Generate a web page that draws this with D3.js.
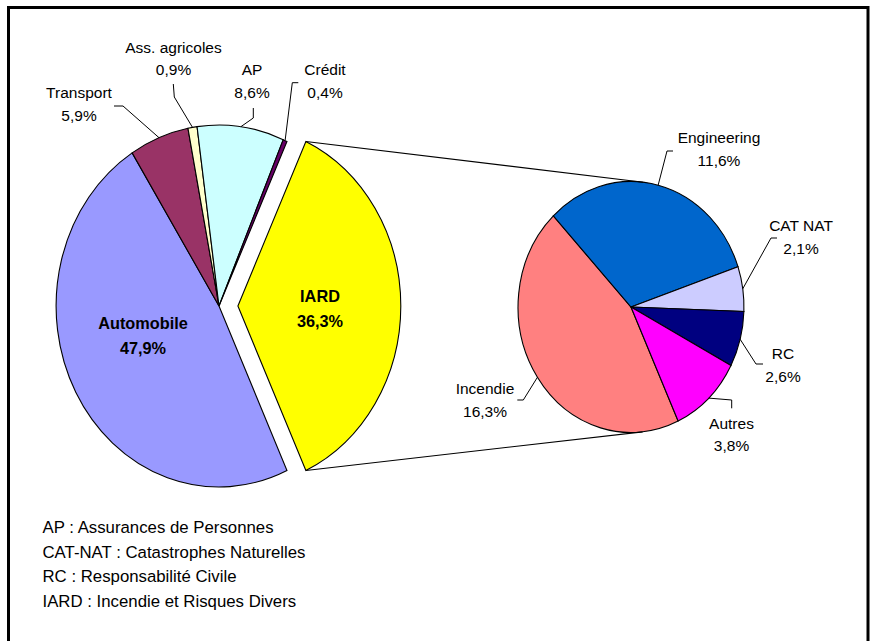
<!DOCTYPE html>
<html>
<head>
<meta charset="utf-8">
<script src="https://cdn.jsdelivr.net/npm/d3@7"></script>
<style>
  html, body { margin: 0; padding: 0; background: #fff; }
  svg { display: block; }
  text { font-family: "Liberation Sans", Arial, sans-serif; fill: #000; }
</style>
</head>
<body>
<svg id="chart" width="872" height="641"></svg>
<script>
// ---- Data ----
const mainCategories = ["Automobile", "Transport", "Ass. agricoles", "AP", "Crédit", "IARD"];
const mainValues = [47.9, 5.9, 0.9, 8.6, 0.4, 36.3];
const subCategories = ["Incendie", "Engineering", "CAT NAT", "RC", "Autres"];
const subValues = [16.3, 11.6, 2.1, 2.6, 3.8];
const footnotes = [
  "AP : Assurances de Personnes",
  "CAT-NAT : Catastrophes Naturelles",
  "RC : Responsabilité Civile",
  "IARD : Incendie et Risques Divers"
];

// ---- Styles ----
const mainColors = ["#9999FF", "#993366", "#FFFFCC", "#CCFFFF", "#660066", "#FFFF00"];
const subColors = ["#FF8080", "#0066CC", "#CCCCFF", "#000080", "#FF00FF"];
const fmt = v => d3.format(".1f")(v).replace(".", ",") + "%";

// ---- Layout ----
const SX = 0.9;              // horizontal squash of the pies
const mainC = {x: 219, y: 306, r: 181, explode: 21};
const subC = {x: 631, y: 307, r: 125.5};

const mainLayout = {
  "Automobile":    {x: 143, y: 329, bold: true},
  "Transport":     {x: 79,  y: 98,  leader: [[114, 106], [123, 106]]},
  "Ass. agricoles":{x: 173.5, y: 52.5, leader: [[173.3, 84], [174.3, 97]]},
  "AP":            {x: 252, y: 75,  leader: [[253.3, 108], [253.3, 118]]},
  "Crédit":        {x: 325, y: 75,  leader: [[298.3, 82.7], [292.3, 82.7]]},
  "IARD":          {x: 320, y: 302, bold: true}
};
const subLayout = {
  "Incendie":    {x: 485, y: 394, leader: [[517.3, 400], [523.3, 400]]},
  "Engineering": {x: 719, y: 143, leader: [[673, 151], [667, 151]]},
  "CAT NAT":     {x: 801, y: 231, leader: [[777, 238], [771, 238]]},
  "RC":          {x: 783, y: 359, leader: [[763, 364], [756, 364]]},
  "Autres":      {x: 731.5, y: 428.5, leader: [[731.7, 408.3], [731.7, 400]]}
};
const lineGap = 22.5;

const svg = d3.select("#chart");

// frame
svg.append("rect")
  .attr("x", 8.5).attr("y", 7.5).attr("width", 859.5).attr("height", 650)
  .attr("fill", "#fff").attr("stroke", "#000").attr("stroke-width", 3);

const TAU = 2 * Math.PI;

// ---- main pie ----
const mainTotal = d3.sum(mainValues);
const iardIdx = mainCategories.indexOf("IARD");
const before = d3.sum(mainValues.slice(0, iardIdx));
const mainStart = Math.PI / 2 - TAU * (before + mainValues[iardIdx] / 2) / mainTotal;
const mainPie = d3.pie().sort(null).value(d => d).startAngle(mainStart).endAngle(mainStart + TAU);
const mainArcs = mainPie(mainValues);
const mainArc = d3.arc().innerRadius(0).outerRadius(mainC.r);

const gMain = svg.append("g").attr("transform", `translate(${mainC.x},${mainC.y}) scale(${SX},1)`);
gMain.selectAll("path").data(mainArcs).join("path")
  .attr("d", mainArc)
  .attr("transform", (d, i) => {
    if (i !== iardIdx) return null;
    const a = (d.startAngle + d.endAngle) / 2;
    return `translate(${mainC.explode * Math.sin(a)},${-mainC.explode * Math.cos(a)})`;
  })
  .attr("fill", (d, i) => mainColors[i])
  .attr("stroke", "#000").attr("stroke-width", 1.1)
  .attr("vector-effect", "non-scaling-stroke")
  .attr("stroke-linejoin", "miter");

function pt(c, angle, r, off) {
  const ox = off ? off[0] : 0, oy = off ? off[1] : 0;
  return [c.x + SX * (ox + r * Math.sin(angle)), c.y + oy - r * Math.cos(angle)];
}

// ---- secondary pie ----
const iard = mainArcs[iardIdx];
const subPie = d3.pie().sort(null).value(d => d).startAngle(iard.endAngle - TAU).endAngle(iard.endAngle);
const subArcs = subPie(subValues);
const subArc = d3.arc().innerRadius(0).outerRadius(subC.r);
const gSub = svg.append("g").attr("transform", `translate(${subC.x},${subC.y}) scale(${SX},1)`);
gSub.selectAll("path").data(subArcs).join("path")
  .attr("d", subArc)
  .attr("fill", (d, i) => subColors[i])
  .attr("stroke", "#000").attr("stroke-width", 1.1)
  .attr("vector-effect", "non-scaling-stroke");

// ---- connector lines ----
const ia = (iard.startAngle + iard.endAngle) / 2;
const off = [mainC.explode * Math.sin(ia), -mainC.explode * Math.cos(ia)];
const pTop = pt(mainC, iard.startAngle, mainC.r, off);
const pBot = pt(mainC, iard.endAngle, mainC.r, off);
function tangent(p, upper) {
  const px = (p[0] - subC.x) / SX, py = p[1] - subC.y;
  const d = Math.hypot(px, py);
  const phi = Math.atan2(py, px);
  const al = Math.acos(subC.r / d);
  const cands = [phi + al, phi - al].map(t => [subC.x + SX * subC.r * Math.cos(t), subC.y + subC.r * Math.sin(t)]);
  return upper ? (cands[0][1] < cands[1][1] ? cands[0] : cands[1]) : (cands[0][1] > cands[1][1] ? cands[0] : cands[1]);
}
[[pTop, tangent(pTop, true)], [pBot, tangent(pBot, false)]].forEach(seg => {
  svg.append("line")
    .attr("x1", seg[0][0]).attr("y1", seg[0][1])
    .attr("x2", seg[1][0]).attr("y2", seg[1][1])
    .attr("stroke", "#000").attr("stroke-width", 1.1);
});

// ---- labels ----
function drawLabels(arcs, cats, layout, c) {
  arcs.forEach((d, i) => {
    const L = layout[cats[i]];
    if (!L) return;
    const t = svg.append("text")
      .attr("text-anchor", "middle")
      .style("font-size", L.bold ? "16.3px" : "15.5px")
      .style("font-weight", L.bold ? "bold" : "normal");
    t.append("tspan").attr("x", L.x).attr("y", L.y).text(cats[i]);
    t.append("tspan").attr("x", L.x).attr("y", L.y + (L.bold ? 24.5 : lineGap)).text(fmt(d.data));
    if (L.leader) {
      const a = (d.startAngle + d.endAngle) / 2;
      const pts = L.leader.concat([pt(c, a, c.r)]);
      svg.append("path")
        .attr("d", d3.line()(pts))
        .attr("fill", "none").attr("stroke", "#000").attr("stroke-width", 1);
    }
  });
}
drawLabels(mainArcs, mainCategories, mainLayout, mainC);
drawLabels(subArcs, subCategories, subLayout, subC);

// ---- footnotes ----
svg.append("g").selectAll("text").data(footnotes).join("text")
  .attr("x", 42.5)
  .attr("y", (d, i) => 533 + i * 24.5)
  .style("font-size", "16.8px")
  .text(d => d);
</script>
</body>
</html>
